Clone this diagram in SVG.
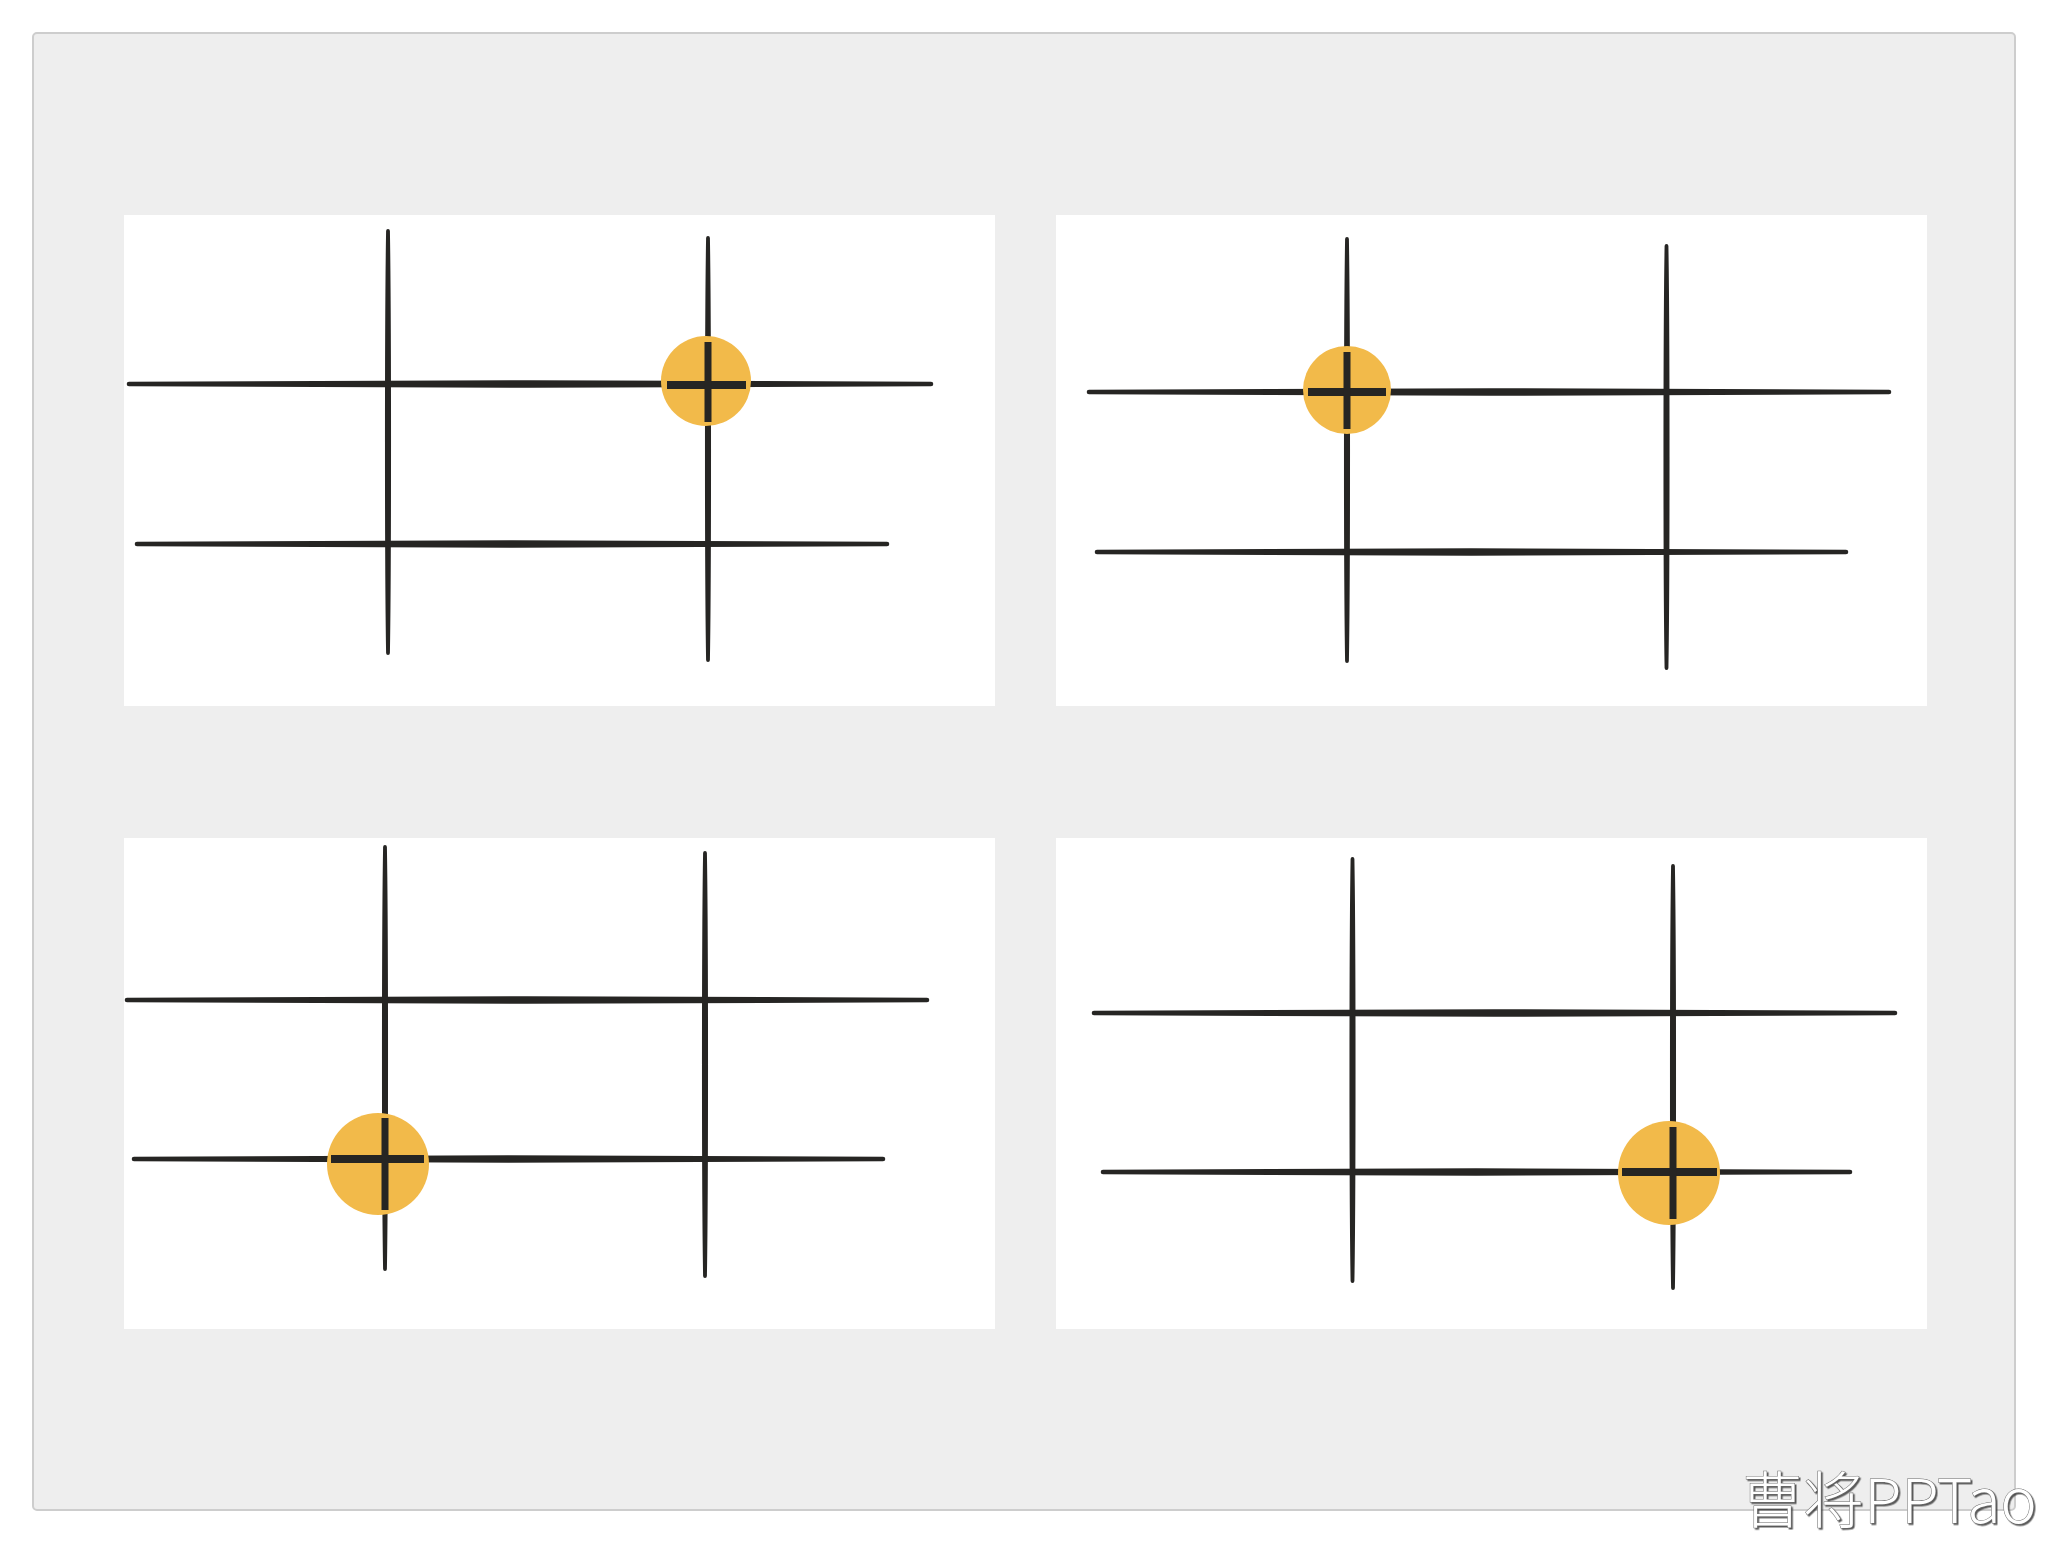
<svg xmlns="http://www.w3.org/2000/svg" width="2048" height="1543" viewBox="0 0 2048 1543">
<defs>
<style>
.bg{fill:#ffffff}
.outer{fill:#eeeeee;stroke:#cdcdcd;stroke-width:2}
.panel{fill:#ffffff}
.h{fill:#262523;stroke:#262523;stroke-width:4.6;stroke-linejoin:round}
.v{fill:#262523;stroke:#262523;stroke-width:3.8;stroke-linejoin:round}
.dot{fill:#F2BA4A}
.bar{fill:#262523}
.wm{font-family:"Noto Sans CJK SC","Noto Sans",sans-serif;font-size:61px;font-weight:300;fill:#ffffff;stroke:#6a6a6a;stroke-width:1;paint-order:stroke}
</style>
<filter id="sh" x="-5%" y="-20%" width="110%" height="140%">
<feDropShadow dx="1.5" dy="1.5" stdDeviation="0.6" flood-color="#333333" flood-opacity="0.8"/>
</filter>
</defs>
<rect class="bg" x="0" y="0" width="2048" height="1543"/>
<rect class="outer" x="33" y="33" width="1982" height="1477" rx="4"/>

<g id="panel-top-left">
<rect class="panel" x="124" y="215" width="871" height="491"/>
<path class="h" d="M129 384 C289 382 771 382 931 384 C771 386 289 386 129 384Z"/>
<path class="h" d="M137 544 C287 542 737 542 887 544 C737 546 287 546 137 544Z"/>
<path class="v" d="M388 231 C386.5 315 386.5 569 388 653 C389.5 569 389.5 315 388 231Z"/>
<path class="v" d="M708 238 C706.5 322 706.5 576 708 660 C709.5 576 709.5 322 708 238Z"/>
<circle class="dot" cx="706" cy="381" r="45"/>
<rect class="bar" x="667" y="381" width="79" height="8"/>
<rect class="bar" x="704.5" y="342" width="7" height="80"/>
</g>

<g id="panel-top-right">
<rect class="panel" x="1056" y="215" width="871" height="491"/>
<path class="h" d="M1089 392 C1249 390 1729 390 1889 392 C1729 394 1249 394 1089 392Z"/>
<path class="h" d="M1097 552 C1247 550 1696 550 1846 552 C1696 554 1247 554 1097 552Z"/>
<path class="v" d="M1347 239 C1345.5 323 1345.5 577 1347 661 C1348.5 577 1348.5 323 1347 239Z"/>
<path class="v" d="M1666.5 246 C1665 330 1665 584 1666.5 668 C1668 584 1668 330 1666.5 246Z"/>
<circle class="dot" cx="1347" cy="390" r="44"/>
<rect class="bar" x="1308" y="388" width="78" height="8"/>
<rect class="bar" x="1343.5" y="352" width="7" height="77"/>
</g>

<g id="panel-bottom-left">
<rect class="panel" x="124" y="838" width="871" height="491"/>
<path class="h" d="M127 1000 C287 998 767 998 927 1000 C767 1002 287 1002 127 1000Z"/>
<path class="h" d="M134 1159 C284 1157 733 1157 883 1159 C733 1161 284 1161 134 1159Z"/>
<path class="v" d="M385 847 C383.5 931 383.5 1185 385 1269 C386.5 1185 386.5 931 385 847Z"/>
<path class="v" d="M705 853 C703.5 938 703.5 1191 705 1276 C706.5 1191 706.5 938 705 853Z"/>
<circle class="dot" cx="378" cy="1164" r="51"/>
<rect class="bar" x="331" y="1155" width="93" height="8"/>
<rect class="bar" x="381.5" y="1118" width="7" height="92"/>
</g>

<g id="panel-bottom-right">
<rect class="panel" x="1056" y="838" width="871" height="491"/>
<path class="h" d="M1094 1013 C1254 1011 1735 1011 1895 1013 C1735 1015 1254 1015 1094 1013Z"/>
<path class="h" d="M1103 1172 C1252 1170 1701 1170 1850 1172 C1701 1174 1252 1174 1103 1172Z"/>
<path class="v" d="M1352.5 859 C1351 943 1351 1197 1352.5 1281 C1354 1197 1354 943 1352.5 859Z"/>
<path class="v" d="M1673 866 C1671.5 950 1671.5 1204 1673 1288 C1674.5 1204 1674.5 950 1673 866Z"/>
<ellipse class="dot" cx="1669" cy="1173" rx="51" ry="52"/>
<rect class="bar" x="1622" y="1168" width="95" height="8"/>
<rect class="bar" x="1669.5" y="1127" width="7" height="92"/>
</g>

<g id="watermark">
<text class="wm" x="1742" y="1523" filter="url(#sh)">曹将PPTao</text>
</g>
</svg>
